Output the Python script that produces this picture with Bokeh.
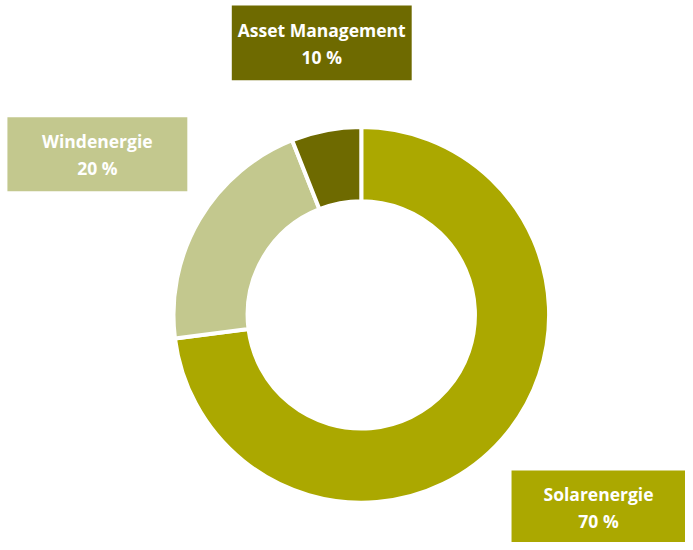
import numpy as np
from bokeh.plotting import figure
from bokeh.models import ColumnDataSource, Range1d
from bokeh.core.properties import value
from bokeh.embed import file_html
from bokeh.resources import INLINE

# Data
categories = ["Solarenergie", "Windenergie", "Asset Management"]
shares = [73, 21, 6]
pct_labels = ["70 %", "20 %", "10 %"]
colors = ["#ABA800", "#C3C88E", "#6E6A00"]

# Layout (donut centre at 0,0; units ~ reference pixels)
W, H = 685, 542
p = figure(width=W, height=H, output_backend="svg", toolbar_location=None,
           x_range=Range1d(-365, 328), y_range=Range1d(-231, 319),
           min_border=0)
p.axis.visible = False
p.grid.visible = False
p.outline_line_color = None
p.background_fill_color = "white"
p.border_fill_color = "white"

frac = np.array(shares, dtype=float) / sum(shares)
cum = np.concatenate([[0], np.cumsum(frac)])
start = np.pi / 2 - 2 * np.pi * cum[:-1]
end = np.pi / 2 - 2 * np.pi * cum[1:]

src = ColumnDataSource(dict(cat=categories, start=start, end=end, color=colors))
p.annular_wedge(x=0, y=0, inner_radius=115, outer_radius=190,
                start_angle="start", end_angle="end", direction="clock",
                fill_color="color", line_color="white", line_width=4, source=src)

# label boxes (centre x, centre y, width, height)
box_x = [240, -267, -40]
box_y = [-195, 163, 276]
box_w = [176, 182, 182]
box_h = [74, 75, 76]
p.rect(x=box_x, y=box_y, width=box_w, height=box_h, fill_color=colors,
       line_color=None)

p.text(x=box_x, y=[by + 13 for by in box_y], text=categories,
       text_align="center", text_baseline="middle", text_color="white",
       text_font=value("Open Sans"), text_font_style="bold", text_font_size="17.5px")
p.text(x=box_x, y=[by - 14 for by in box_y], text=pct_labels,
       text_align="center", text_baseline="middle", text_color="white",
       text_font=value("Open Sans"), text_font_style="bold", text_font_size="17.5px")

open("out.html", "w").write(file_html(p, INLINE))
